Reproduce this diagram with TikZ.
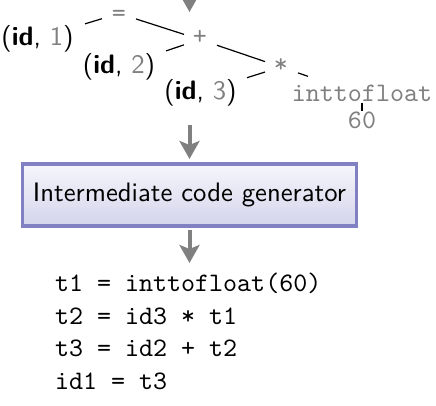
\documentclass[tikz,border=0pt]{standalone}
\usepackage{fontspec}
\setsansfont{lmsans10-regular.otf}[BoldFont=lmsans10-bold.otf]
\setmonofont{lmmono10-regular.otf}
\usetikzlibrary{arrows.meta,calc}
\definecolor{txtgray}{RGB}{128,128,128}
\definecolor{boxborder}{RGB}{128,128,194}
\definecolor{boxtop}{RGB}{246,246,251}
\definecolor{boxbot}{RGB}{212,212,236}
\definecolor{arrgray}{RGB}{128,128,128}
\begin{document}
\begin{tikzpicture}[x=1pt,y=-1pt,
  every node/.style={inner sep=0pt,outer sep=0pt,font=\fontsize{26.7}{32.4}\selectfont},
  idnode/.style={font=\fontsize{26.7}{32.4}\selectfont\sffamily,anchor=base},
  opnode/.style={font=\fontsize{26.7}{32.4}\selectfont\ttfamily,text=txtgray,anchor=base},
  codeline/.style={font=\fontsize{26.7}{32.4}\selectfont\ttfamily,anchor=base west},
  treeedge/.style={draw=black,line width=1.2pt},
  flow/.style={draw=arrgray,line width=4pt,-{Stealth[length=18pt,width=20pt,inset=4pt]}},
  phasebox/.style={draw=boxborder,line width=3.5pt,top color=boxtop,bottom color=boxbot,
    minimum width=334pt,minimum height=62pt,outer sep=1.75pt,
    font=\fontsize{26.7}{32.4}\selectfont\sffamily}]
\path[use as bounding box,clip] (0,0) rectangle (436,405);
% tree nodes
\node[opnode,text height=16pt,text depth=0pt] (eq) at (119,21.5) {=};
\node[idnode] (id1) at (37.5,45) {(\textbf{id}, \textcolor{txtgray}{1})};
\node[opnode,text height=10.4pt,text depth=0pt] (plus) at (200,44.7) {+};
\node[idnode] (id2) at (119,73.3) {(\textbf{id}, \textcolor{txtgray}{2})};
\node[opnode,text height=10pt,text depth=0pt] (star) at (281,72) {*};
\node[idnode] (id3) at (200.5,99) {(\textbf{id}, \textcolor{txtgray}{3})};
\node[opnode,text height=13pt,text depth=0pt] (itf) at (362,101.5) {inttofloat};
\node[opnode,text height=16pt,text depth=0pt] (sixty) at (362,128) {60};
% tree edges
\draw[treeedge] ($(eq)!17.8pt!(id1)$) -- ($(id1)!49.7pt!(eq)$);
\draw[treeedge] ($(eq)!17.9pt!(plus)$) -- ($(plus)!16.8pt!(eq)$);
\draw[treeedge] ($(plus)!16.9pt!(id2)$) -- ($(id2)!49.6pt!(plus)$);
\draw[treeedge] ($(plus)!17.9pt!(star)$) -- ($(star)!16.9pt!(plus)$);
\draw[treeedge] ($(star)!16.8pt!(id3)$) -- ($(id3)!48.8pt!(star)$);
\draw[treeedge] ($(star)!18pt!(itf)$) -- ($(itf)!57.1pt!(star)$);
\draw[treeedge] ($(itf)!8.3pt!(sixty)$) -- ($(sixty)!9.3pt!(itf)$);
% phase box
\node[phasebox] (icg) at (189.5,195) {Intermediate code generator};
% flow arrows
\coordinate (intop) at (189.5,-10);
\coordinate (inbot) at (189.5,12);
\coordinate (treeout) at (189.5,125);
\coordinate (codein) at (189.5,263);
\draw[flow] (intop) -- (inbot);
\draw[flow,shorten >=3.25pt] (treeout) -- (icg.north);
\draw[flow,shorten <=2.25pt] (icg.south) -- (codein);
% code
\node[codeline] (c1) at (55,291.7) {t1 = inttofloat(60)};
\node[codeline] (c2) at (55,324.3) {t2 = id3 * t1};
\node[codeline] (c3) at (55,356.7) {t3 = id2 + t2};
\node[codeline] (c4) at (55,389) {id1 = t3};
\end{tikzpicture}
\end{document}
